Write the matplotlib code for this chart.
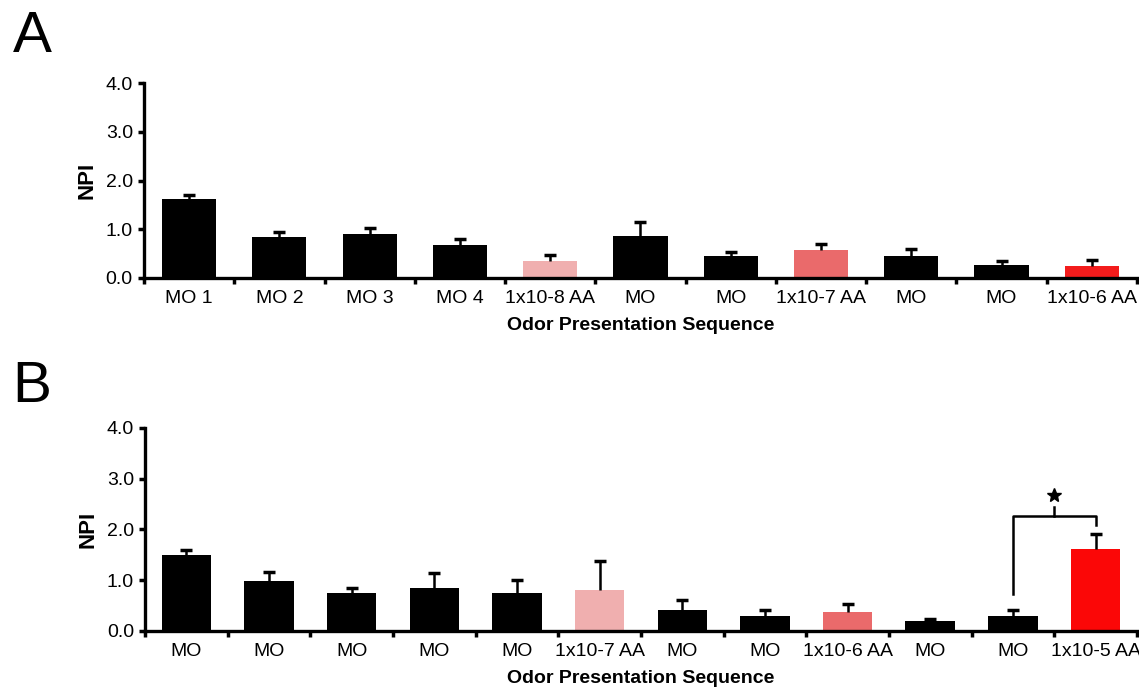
import matplotlib
matplotlib.use("Agg")
import matplotlib.pyplot as plt
import numpy as np

plt.rcParams['font.family'] = ['Liberation Sans', 'DejaVu Sans']

# Panel A data
labels_a = ['MO 1', 'MO 2', 'MO 3', 'MO 4', '1x10-8 AA', 'MO', 'MO', '1x10-7 AA',
            'MO', 'MO', '1x10-6 AA']
npi_a = [1.62, 0.84, 0.91, 0.68, 0.35, 0.87, 0.46, 0.57, 0.46, 0.27, 0.25]
err_a = [0.09, 0.10, 0.12, 0.12, 0.13, 0.27, 0.07, 0.12, 0.13, 0.08, 0.11]

# Panel B data
labels_b = ['MO', 'MO', 'MO', 'MO', 'MO', '1x10-7 AA', 'MO', 'MO', '1x10-6 AA',
            'MO', 'MO', '1x10-5 AA']
npi_b = [1.49, 0.98, 0.74, 0.84, 0.74, 0.81, 0.42, 0.29, 0.37, 0.20, 0.30, 1.62]
err_b = [0.10, 0.19, 0.11, 0.31, 0.27, 0.57, 0.20, 0.13, 0.16, 0.03, 0.11, 0.29]

# bar colours by odor
c_mo = 'black'
c_8 = '#f0afaf'
c_7 = '#ea6a6b'
c_6 = '#f31c1c'
c_5 = '#fb0707'
colors_a = [c_mo] * 4 + [c_8, c_mo, c_mo, c_7, c_mo, c_mo, c_6]
colors_b = [c_mo] * 5 + [c_8, c_mo, c_mo, c_7, c_mo, c_mo, c_5]

# significance bracket in B (between bar 10 and 11)
sig_pair = (10, 11)
sig_y = 2.27
sig_left_bottom = 0.73
sig_right_bottom = 2.08


def bar_panel(ax, labels, vals, errs, colors):
    n = len(vals)
    x = np.arange(n)
    vals = np.array(vals)
    tops = vals + np.array(errs)
    ax.bar(x, vals, width=0.6, color=colors, zorder=2)
    # upper-only error bars
    ax.vlines(x, vals, tops, color='black', lw=1.8, zorder=3)
    ax.plot(x, tops, ls='none', marker='_', markersize=8, markeredgewidth=2.5,
            color='black', zorder=3)
    ax.set_xlim(-0.5, n - 0.5)
    ax.set_ylim(0, 4)
    ax.set_yticks([0, 1, 2, 3, 4])
    ax.set_yticklabels(['0.0', '1.0', '2.0', '3.0', '4.0'], fontsize=14)
    ax.set_xticks(x)
    ax.set_xticklabels(labels, fontsize=14)
    ax.set_xticks(np.arange(n + 1) - 0.5, minor=True)
    ax.tick_params(axis='x', which='major', length=0, pad=9)
    ax.tick_params(axis='x', which='minor', length=4, width=2.5, direction='out')
    ax.tick_params(axis='y', length=4, width=2.5, direction='out', pad=4)
    for s in ['top', 'right']:
        ax.spines[s].set_visible(False)
    for s in ['left', 'bottom']:
        ax.spines[s].set_linewidth(2.4)
    ax.set_ylabel('NPI', fontsize=16, fontweight='bold', labelpad=6)
    ax.set_xlabel('Odor Presentation Sequence', fontsize=14, fontweight='bold', labelpad=7)


fig = plt.figure(figsize=(11.39, 6.96), dpi=100)
ax_a = fig.add_axes([0.1264, 0.6006, 0.8718, 0.2801])
ax_b = fig.add_axes([0.1273, 0.0934, 0.8709, 0.2917])

bar_panel(ax_a, labels_a, npi_a, err_a, colors_a)
bar_panel(ax_b, labels_b, npi_b, err_b, colors_b)

# bracket + star
x0, x1 = sig_pair
xm = (x0 + x1) / 2
ax_b.plot([x0, x0, x1, x1], [sig_left_bottom, sig_y, sig_y, sig_right_bottom],
          color='black', lw=1.8, clip_on=False, zorder=4)
ax_b.plot([xm, xm], [sig_y, sig_y + 0.18], color='black', lw=1.8, zorder=4)
ax_b.plot([xm], [sig_y + 0.41], marker='*', color='black', markersize=10, zorder=4)

fig.text(0.011, 0.925, 'A', fontsize=42)
fig.text(0.011, 0.422, 'B', fontsize=42)

fig.savefig('out.png', dpi=100)
